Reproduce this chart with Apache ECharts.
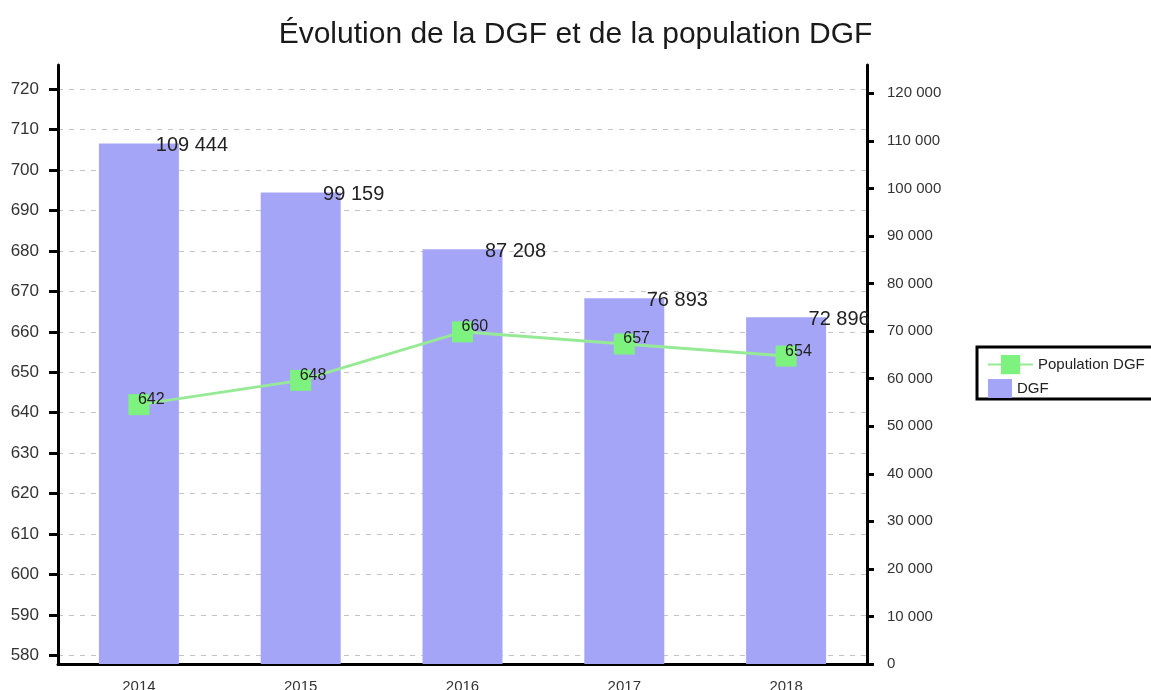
<!DOCTYPE html>
<html>
<head>
<meta charset="utf-8">
<script src="https://cdn.jsdelivr.net/npm/echarts@6/dist/echarts.min.js"></script>
<style>
html,body{margin:0;padding:0;background:#fff;}
#chart{width:1151px;height:690px;}
</style>
</head>
<body>
<div id="chart"></div>
<script>
const categories = ['2014', '2015', '2016', '2017', '2018'];
const dgfValues = [109444, 99159, 87208, 76893, 72896];
const populationValues = [642, 648, 660, 657, 654];
const leftTicks = [580, 590, 600, 610, 620, 630, 640, 650, 660, 670, 680, 690, 700, 710, 720];

function fmt(v) {
  return String(v).replace(/\B(?=(\d{3})+(?!\d))/g, ' ');
}

const FONT = '"Liberation Sans", Arial, sans-serif';
const chart = echarts.init(document.getElementById('chart'), null, {renderer: 'canvas'});

chart.setOption({
  backgroundColor: '#ffffff',
  animation: false,
  textStyle: {fontFamily: FONT},
  title: {
    text: 'Évolution de la DGF et de la population DGF',
    left: 'center',
    top: 20,
    padding: 0,
    textStyle: {fontFamily: FONT, fontSize: 30, fontWeight: 'normal', color: '#1a1a1a'}
  },
  graphic: [{
    type: 'rect',
    z: 0,
    shape: {x: 977, y: 347, width: 200, height: 52},
    style: {fill: '#ffffff', stroke: '#000000', lineWidth: 3}
  }],
  legend: [{
    data: ['Population DGF'],
    left: 987,
    top: 355,
    padding: 0,
    itemWidth: 45,
    itemHeight: 24,
    itemGap: 5,
    z: 10,
    textStyle: {fontFamily: FONT, fontSize: 15, color: '#222'}
  }, {
    data: [{name: 'DGF', icon: 'rect'}],
    left: 988,
    top: 379,
    padding: 0,
    itemWidth: 24,
    itemHeight: 19,
    itemGap: 8,
    z: 10,
    textStyle: {fontFamily: FONT, fontSize: 15, color: '#222'}
  }],
  grid: {left: 58, right: 284, top: 65, bottom: 26, containLabel: false, outerBoundsMode: 'none'},
  xAxis: {
    type: 'category',
    data: categories,
    boundaryGap: true,
    axisLine: {show: true, lineStyle: {color: '#000', width: 3}},
    axisTick: {show: false},
    axisLabel: {margin: 15, fontSize: 15, color: '#333', fontFamily: FONT},
    splitLine: {show: false}
  },
  yAxis: [{
    type: 'value',
    position: 'left',
    min: 577.85,
    max: 726,
    axisLine: {show: true, onZero: false, lineStyle: {color: '#000', width: 3}},
    axisTick: {show: true, inside: false, length: 9, lineStyle: {color: '#000', width: 3}, customValues: leftTicks},
    axisLabel: {margin: 19, fontSize: 17, color: '#333', fontFamily: FONT, customValues: leftTicks},
    splitLine: {show: true, lineStyle: {color: '#c4c4c4', width: 1, type: [5, 6]}}
  }, {
    type: 'value',
    position: 'right',
    min: 0,
    max: 125950,
    interval: 10000,
    axisLine: {show: true, onZero: false, lineStyle: {color: '#000', width: 3}},
    axisTick: {show: true, inside: false, length: 7, lineStyle: {color: '#000', width: 3}},
    axisLabel: {margin: 20, fontSize: 15, color: '#333', fontFamily: FONT, formatter: fmt, showMaxLabel: false},
    splitLine: {show: false}
  }],
  series: [{
    name: 'Population DGF',
    type: 'line',
    yAxisIndex: 0,
    data: populationValues,
    z: 5,
    symbol: 'rect',
    symbolSize: 21,
    lineStyle: {color: '#96ea96', width: 3},
    itemStyle: {color: '#7ef27e'},
    label: {
      show: true,
      position: 'inside',
      align: 'left',
      verticalAlign: 'middle',
      offset: [-1, -5],
      fontSize: 16,
      color: '#222',
      fontFamily: FONT
    }
  }, {
    name: 'DGF',
    type: 'bar',
    yAxisIndex: 1,
    data: dgfValues,
    barWidth: 80,
    z: 2,
    itemStyle: {color: '#a5a5f8'},
    label: {
      show: true,
      position: ['50%', 0],
      align: 'center',
      verticalAlign: 'middle',
      offset: [53, 2],
      fontSize: 20,
      color: '#222',
      fontFamily: FONT,
      formatter: p => fmt(p.value)
    }
  }]
});
</script>
</body>
</html>
